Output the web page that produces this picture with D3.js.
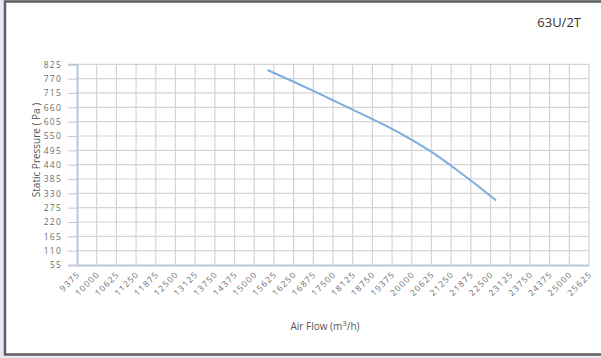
<!DOCTYPE html>
<html><head><meta charset="utf-8">
<script src="https://cdn.jsdelivr.net/npm/d3@7"></script>
<style>
html,body{margin:0;padding:0;background:#e6e7f2;}
svg{display:block;}
</style></head>
<body>
<svg id="c" width="601" height="358"></svg>
<script>
const title = "63U/2T";
const xTicks = [9375,10000,10625,11250,11875,12500,13125,13750,14375,15000,15625,16250,16875,17500,18125,18750,19375,20000,20625,21250,21875,22500,23125,23750,24375,25000,25625];
const yTicks = [55,110,165,220,275,330,385,440,495,550,605,660,715,770,825];
const flow = [15420,16250,16875,17500,18125,19375,20000,20625,21250,21875,22680];
const pressure = [803,758,723,687,651,577,535,489,436,379,302];

const svg = d3.select("#c");
// frame
svg.append("rect").attr("x",5).attr("y",1.5).attr("width",600).attr("height",353)
  .attr("fill","#fff").attr("stroke","#5f5f5f").attr("stroke-width",2.5);

const L=77, R=589, T=64.3, B=265;
const x = d3.scaleLinear().domain([9375,25625]).range([L,R]);
const y = d3.scaleLinear().domain([55,825]).range([B,T]);

// gridlines
svg.append("g").selectAll("line").data(xTicks.slice(1)).join("line")
  .attr("x1",d=>x(d)).attr("x2",d=>x(d)).attr("y1",T).attr("y2",B)
  .attr("stroke","#d4d4d4").attr("stroke-width",1.2);
svg.append("g").selectAll("line").data(yTicks.slice(1)).join("line")
  .attr("x1",L).attr("x2",R).attr("y1",d=>y(d)).attr("y2",d=>y(d))
  .attr("stroke","#d4d4d4").attr("stroke-width",1.2);

// y axis
const yAx = svg.append("g").attr("transform",`translate(${L},0)`)
  .call(d3.axisLeft(y).tickValues(yTicks).tickSize(9).tickPadding(6));
yAx.select(".domain").attr("stroke","#b8c8dc").attr("stroke-width",2);
yAx.selectAll(".tick line").attr("stroke","#c8c8c8");
yAx.selectAll("text").attr("font-family","Open Sans").attr("font-size","8.5px")
  .attr("fill","#6b6b6b").style("letter-spacing","1.2px");

// x axis
const xAx = svg.append("g").attr("transform",`translate(0,${B})`)
  .call(d3.axisBottom(x).tickValues(xTicks).tickSize(0).tickPadding(0).tickFormat(d3.format("d")));
xAx.select(".domain").attr("stroke","#b8c8dc").attr("stroke-width",2);
xAx.selectAll("text").attr("font-family","Open Sans").attr("font-size","8.5px")
  .attr("fill","#6b6b6b").style("letter-spacing","1.2px")
  .attr("text-anchor","end").attr("dy",null).attr("y",null)
  .attr("transform","translate(3,10) rotate(-45)");

// line
svg.append("path").datum(flow.map((f,i)=>[f,pressure[i]]))
  .attr("fill","none").attr("stroke","#7aaee0").attr("stroke-width",2)
  .attr("d",d3.line().x(d=>x(d[0])).y(d=>y(d[1])).curve(d3.curveMonotoneX));

// titles
svg.append("text").attr("x",581).attr("y",27).attr("text-anchor","end")
  .attr("font-family","Open Sans").attr("font-size","13px").attr("fill","#333").text(title);
const xt = svg.append("text").attr("x",325).attr("y",330).attr("text-anchor","middle")
  .attr("font-family","Open Sans").attr("font-size","10px").attr("fill","#555");
xt.append("tspan").text("Air Flow (m");
xt.append("tspan").attr("dy",-4).attr("font-size","8px").text("3");
xt.append("tspan").attr("dy",4).text("/h)");
svg.append("text").attr("transform","translate(40,150) rotate(-90)").attr("text-anchor","middle")
  .attr("font-family","Open Sans").attr("font-size","10px").attr("fill","#555").text("Static Pressure ( Pa )");
</script>
</body></html>
